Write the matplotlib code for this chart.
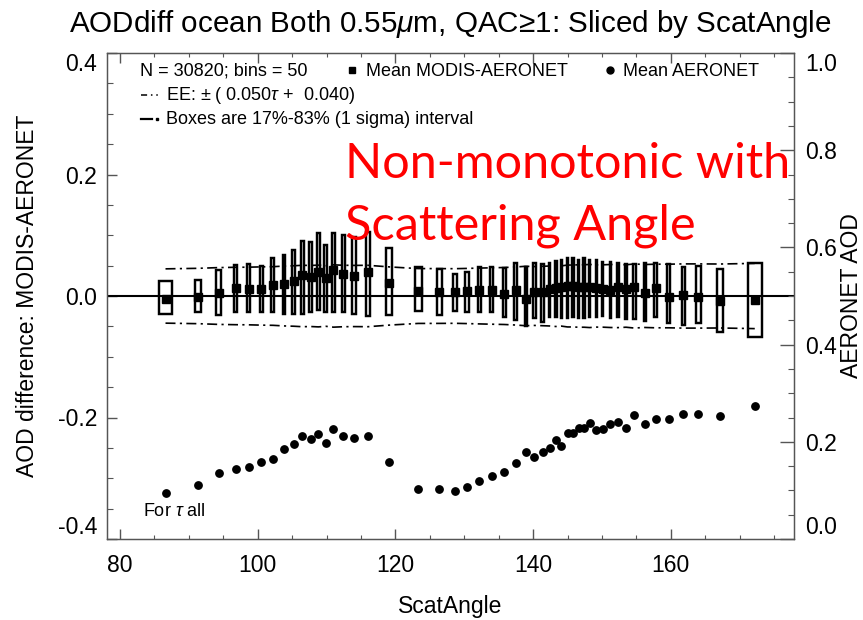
import matplotlib
matplotlib.use('Agg')
import matplotlib.pyplot as plt
from matplotlib.patches import Rectangle
from matplotlib.ticker import MultipleLocator

plt.rcParams['font.family'] = ['Liberation Sans', 'DejaVu Sans']
plt.rcParams['mathtext.fontset'] = 'custom'
plt.rcParams['mathtext.rm'] = 'Liberation Sans'
plt.rcParams['mathtext.it'] = 'Liberation Sans:italic'

# ---- data ----
scat_angle = [86.6, 91.3, 94.3, 96.8, 98.7, 100.5, 102.2, 103.8, 105.2, 106.5,
              107.7, 108.8, 109.9, 111.0, 112.4, 114.0, 116.0, 119.1, 123.3, 126.4,
              128.6, 130.4, 132.2, 134.0, 135.8, 137.5, 138.9, 140.2, 141.4, 142.4,
              143.3, 144.1, 145.0, 145.8, 146.6, 147.4, 148.2, 149.2, 150.1, 151.2,
              152.3, 153.5, 154.7, 156.2, 157.8, 159.7, 161.8, 164.0, 167.2, 172.2]
box_width = [2.0, 0.93, 0.6, 0.49, 0.41, 0.49, 0.41, 0.41, 0.41, 0.41,
             0.41, 0.41, 0.41, 0.49, 0.41, 0.49, 0.49, 0.93, 0.99, 0.78,
             0.55, 0.55, 0.45, 0.49, 0.45, 0.45, 0.30, 0.55, 0.45, 0.2,
             0.2, 0.2, 0.2, 0.2, 0.2, 0.2, 0.2, 0.2, 0.2, 0.2,
             0.3, 0.3, 0.41, 0.3, 0.41, 0.45, 0.45, 0.70, 0.84, 2.09]
box_top = [0.025, 0.027, 0.043, 0.051, 0.053, 0.050, 0.062, 0.067, 0.075, 0.091,
           0.089, 0.103, 0.084, 0.103, 0.100, 0.097, 0.105, 0.079, 0.047, 0.044,
           0.037, 0.040, 0.047, 0.047, 0.046, 0.054, 0.048, 0.054, 0.052, 0.055,
           0.058, 0.060, 0.063, 0.062, 0.059, 0.062, 0.060, 0.060, 0.056, 0.056,
           0.055, 0.053, 0.053, 0.054, 0.055, 0.052, 0.047, 0.049, 0.044, 0.055]
box_bottom = [-0.030, -0.026, -0.031, -0.026, -0.026, -0.026, -0.026, -0.029, -0.029, -0.030,
              -0.026, -0.023, -0.026, -0.027, -0.027, -0.030, -0.033, -0.031, -0.025, -0.031,
              -0.025, -0.026, -0.026, -0.026, -0.035, -0.040, -0.049, -0.037, -0.042, -0.035,
              -0.034, -0.036, -0.037, -0.035, -0.036, -0.036, -0.034, -0.035, -0.033, -0.037,
              -0.035, -0.038, -0.038, -0.041, -0.034, -0.045, -0.048, -0.044, -0.060, -0.067]
mean_diff = [-0.0055, -0.002, 0.0055, 0.013, 0.011, 0.011, 0.018, 0.020, 0.025, 0.035,
             0.032, 0.040, 0.029, 0.043, 0.037, 0.033, 0.040, 0.021, 0.008, 0.006,
             0.006, 0.008, 0.010, 0.010, 0.004, 0.010, -0.005, 0.007, 0.007, 0.012,
             0.013, 0.014, 0.016, 0.016, 0.015, 0.014, 0.015, 0.013, 0.011, 0.010,
             0.015, 0.012, 0.015, 0.005, 0.013, -0.001, 0.002, -0.001, -0.008, -0.006]
aeronet_mean = [0.094, 0.111, 0.135, 0.145, 0.149, 0.159, 0.165, 0.185, 0.195, 0.211,
                0.205, 0.217, 0.198, 0.226, 0.212, 0.207, 0.211, 0.158, 0.103, 0.102,
                0.099, 0.108, 0.119, 0.129, 0.138, 0.156, 0.178, 0.169, 0.178, 0.187,
                0.204, 0.191, 0.219, 0.219, 0.228, 0.228, 0.239, 0.224, 0.226, 0.237,
                0.241, 0.228, 0.255, 0.236, 0.247, 0.247, 0.257, 0.257, 0.253, 0.274]
ee_slope = 0.050
ee_offset = 0.040

x_ticks = [80, 100, 120, 140, 160]
left_ticks = [-0.4, -0.2, 0.0, 0.2, 0.4]
right_ticks = [0.0, 0.2, 0.4, 0.6, 0.8, 1.0]

# ---- figure ----
fig = plt.figure(figsize=(8.63, 6.2), dpi=100)
L, R, T, B = 107, 794, 53, 539
W, H = 863, 620
ax = fig.add_axes([L / W, 1 - B / H, (R - L) / W, (B - T) / H])
ax2 = ax.twinx()

ax.set_xlim(78.1, 177.9)
ax.set_ylim(-0.4, 0.4)
ax2.set_ylim(0.0, 1.0)

# zero line
ax.axhline(0.0, color='black', lw=1.5, zorder=2)

# EE envelope
ee_up = [ee_slope * a + ee_offset for a in aeronet_mean]
ee_dn = [-(ee_slope * a + ee_offset) for a in aeronet_mean]
dash = (0, (6.0, 2.6, 1.3, 2.6))
ax.plot(scat_angle, ee_up, color='black', lw=1.2, linestyle=dash, zorder=3)
ax.plot(scat_angle, ee_dn, color='black', lw=1.2, linestyle=dash, zorder=3)

# boxes
for x, w, t, b in zip(scat_angle, box_width, box_top, box_bottom):
    ax.add_patch(Rectangle((x - w / 2, b), w, t - b, facecolor='none',
                           edgecolor='black', lw=1.75, zorder=4))
ax.plot(scat_angle, mean_diff, 's', color='black', ms=5.3, zorder=5)

# AERONET means on right axis
ax2.plot(scat_angle, aeronet_mean, 'o', color='black', ms=5.3, zorder=5)

# ticks
spine_col = '#555555'
for a in (ax, ax2):
    for s in a.spines.values():
        s.set_color(spine_col)
        s.set_linewidth(0.9)

ax.set_xticks(x_ticks)
ax.xaxis.set_minor_locator(MultipleLocator(5))
ax.set_yticks(left_ticks)
ax.set_yticklabels(['-0.4', '-0.2', '0.0', '0.2', '0.4'])
ax.yaxis.set_minor_locator(MultipleLocator(0.05))
ax.tick_params(axis='x', which='both', direction='in', top=True, bottom=True,
               color=spine_col, labelsize=16.5, pad=11)
ax.tick_params(axis='x', which='major', length=7.5, width=1)
ax.tick_params(axis='x', which='minor', length=3.2, width=0.8)
ax.tick_params(axis='y', which='both', direction='in', left=True, right=False,
               color=spine_col, labelsize=16.5, pad=7)
ax.tick_params(axis='y', which='major', length=7.5, width=1)
ax.tick_params(axis='y', which='minor', length=4.5, width=0.8)

ax2.set_yticks(right_ticks)
ax2.set_yticklabels(['0.0', '0.2', '0.4', '0.6', '0.8', '1.0'])
ax2.yaxis.set_minor_locator(MultipleLocator(0.05))
ax2.tick_params(axis='y', which='both', direction='in', right=True, left=False,
                color=spine_col, labelsize=16.5, pad=8)
ax2.tick_params(axis='y', which='major', length=10, width=1)
ax2.tick_params(axis='y', which='minor', length=4.5, width=0.8)

for a in (ax, ax2):
    labs = a.get_yticklabels()
    labs[0].set_va('bottom')
    labs[-1].set_va('top')

# axis titles
fig.text(450.5 / W, 1 - 607 / H, 'ScatAngle', ha='center', va='center', fontsize=16.5)
fig.text(28 / W, 1 - 296 / H, 'AOD difference: MODIS-AERONET', rotation=90,
         ha='center', va='center', fontsize=16.5)
fig.text(851 / W, 1 - 296 / H, 'AERONET AOD', rotation=90,
         ha='center', va='center', fontsize=16.5)

# title
fig.text(450 / W, 1 - 24 / H, r'AODdiff ocean Both 0.55$\mu$m, QAC≥1: Sliced by ScatAngle',
         ha='center', va='center', fontsize=21.3)

# in-plot legend
def ax_x(px):
    return (px - L) / (R - L)

def ax_y(py):
    return 1 - (py - T) / (B - T)

fs_leg = 13
ax.text(ax_x(140), ax_y(71), 'N = 30820; bins = 50', transform=ax.transAxes,
        ha='left', va='center', fontsize=fs_leg)
ax.plot([ax_x(352)], [ax_y(70)], 's', color='black', ms=4.8, transform=ax.transAxes,
        clip_on=False)
ax.text(ax_x(366), ax_y(71), 'Mean MODIS-AERONET', transform=ax.transAxes,
        ha='left', va='center', fontsize=fs_leg)
ax.plot([ax_x(610)], [ax_y(70)], 'o', color='black', ms=5.0, transform=ax.transAxes,
        clip_on=False)
ax.text(ax_x(623), ax_y(71), 'Mean AERONET', transform=ax.transAxes,
        ha='left', va='center', fontsize=fs_leg)
ax.plot([ax_x(141), ax_x(160)], [ax_y(95), ax_y(95)], color='black', lw=1.1,
        linestyle=(0, (4, 2.5, 1, 2.5, 1, 5)), transform=ax.transAxes)
ax.text(ax_x(166), ax_y(96), r'EE: $\pm$ ( 0.050$\tau$ +  0.040)', transform=ax.transAxes,
        ha='left', va='center', fontsize=fs_leg)
ax.plot([ax_x(141), ax_x(152)], [ax_y(119), ax_y(119)], color='black', lw=1.6,
        transform=ax.transAxes)
ax.plot([ax_x(156.5)], [ax_y(119)], 's', color='black', ms=1.6, transform=ax.transAxes)
ax.text(ax_x(166), ax_y(120), 'Boxes are 17%-83% (1 sigma) interval', transform=ax.transAxes,
        ha='left', va='center', fontsize=fs_leg)
ax.text(ax_x(143), ax_y(511), r'For $\tau$ all', transform=ax.transAxes,
        ha='left', va='center', fontsize=fs_leg)

# red annotation
fig.text(345 / W, 1 - 178 / H, 'Non-monotonic with', color='#ff0000',
         family='Lato', fontsize=35, ha='left', va='baseline')
fig.text(345 / W, 1 - 240 / H, 'Scattering Angle', color='#ff0000',
         family='Lato', fontsize=35, ha='left', va='baseline')

fig.savefig('out.png', dpi=100)
